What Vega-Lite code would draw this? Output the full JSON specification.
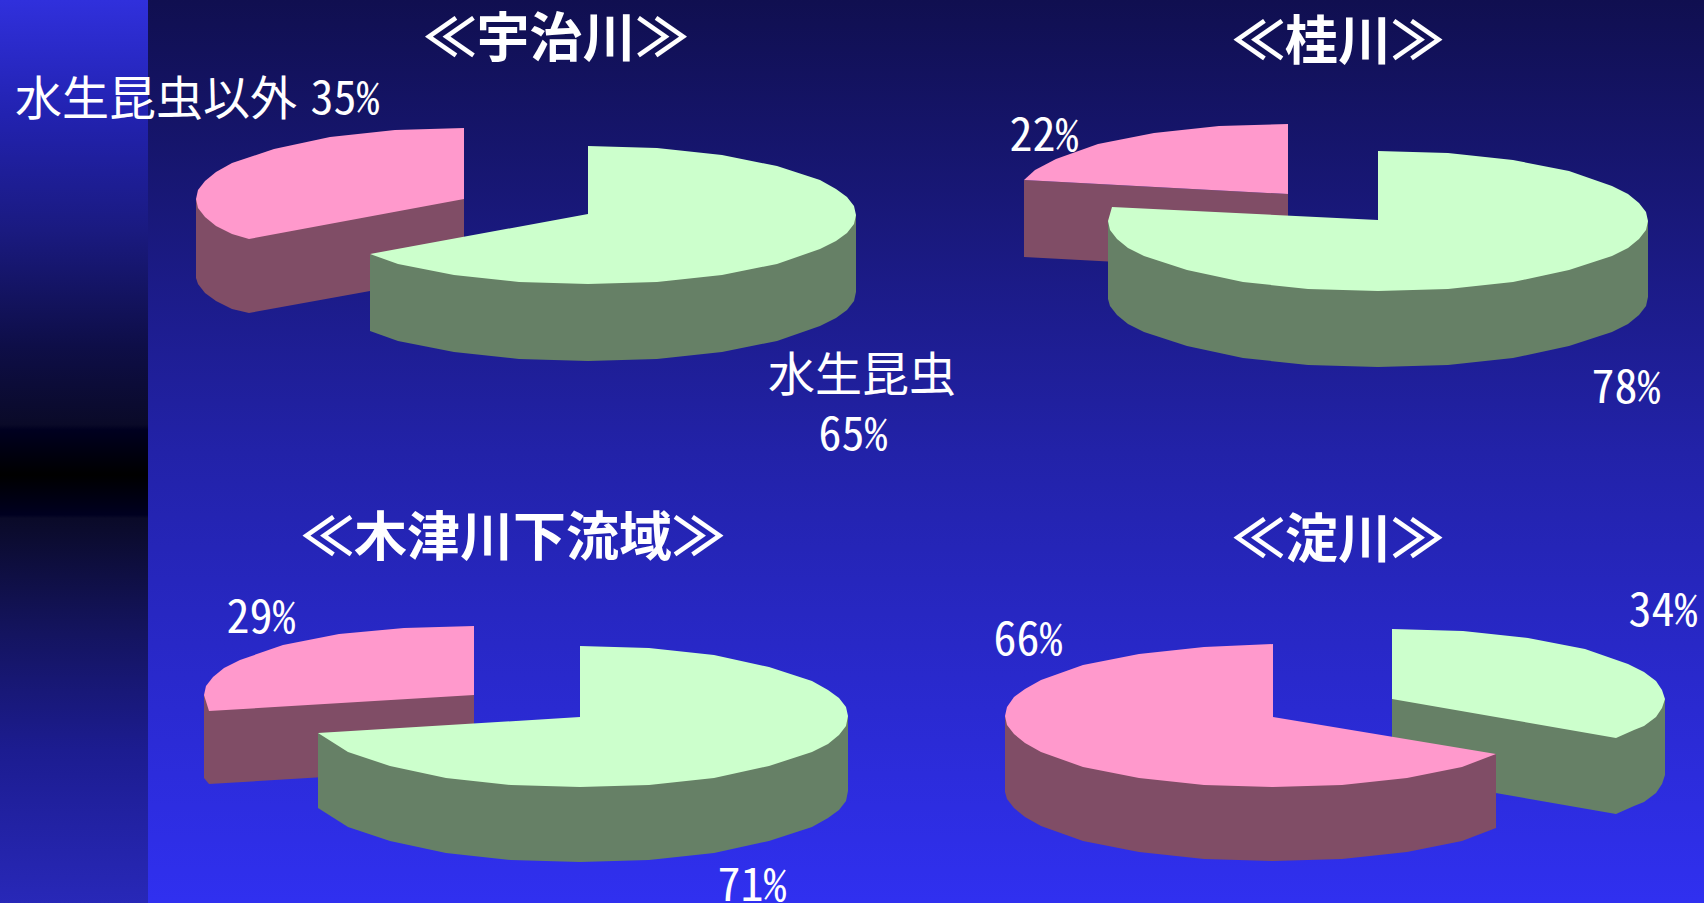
{"$schema":"https://vega.github.io/schema/vega-lite/v6.json","width":1704,"height":903,"padding":0,"autosize":{"type":"none"},"background":"#2020a0","view":{"stroke":null},
"encoding":{"x":{"field":"x","type":"quantitative","scale":{"domain":[0,1704]},"axis":null},"y":{"field":"y","type":"quantitative","scale":{"domain":[903,0]},"axis":null}},
"layer":[
{"data":{"values":[{"x":148,"x2":1704,"y":0,"y2":903}]},"mark":{"type":"rect","color":{"gradient":"linear","x1":0,"y1":0,"x2":0,"y2":1,"stops":[{"offset":0,"color":"#100f50"},{"offset":0.5,"color":"#2222a8"},{"offset":1,"color":"#3030f0"}]}},"encoding":{"x2":{"field":"x2"},"y2":{"field":"y2"}}},
{"data":{"values":[{"x":0,"x2":148,"y":0,"y2":903}]},"mark":{"type":"rect","color":{"gradient":"linear","x1":0,"y1":0,"x2":0,"y2":1,"stops":[{"offset":0,"color":"#3030dc"},{"offset":0.127,"color":"#2222b0"},{"offset":0.255,"color":"#1a1a80"},{"offset":0.382,"color":"#0e0e48"},{"offset":0.47,"color":"#0a0a28"},{"offset":0.476,"color":"#000020"},{"offset":0.526,"color":"#000000"},{"offset":0.57,"color":"#000020"},{"offset":0.574,"color":"#0a0a28"},{"offset":0.703,"color":"#141460"},{"offset":0.83,"color":"#1c1c90"},{"offset":1,"color":"#2828b8"}]}},"encoding":{"x2":{"field":"x2"},"y2":{"field":"y2"}}},
{"data":{"values":[
{"p":"宇治川 以外 側面","o":1,"x":464,"y":199},{"p":"宇治川 以外 側面","o":2,"x":464,"y":274},{"p":"宇治川 以外 側面","o":3,"x":249,"y":313},{"p":"宇治川 以外 側面","o":4,"x":232,"y":309},{"p":"宇治川 以外 側面","o":4.5,"x":216,"y":301},{"p":"宇治川 以外 側面","o":5,"x":205,"y":293},{"p":"宇治川 以外 側面","o":5.5,"x":198,"y":284},{"p":"宇治川 以外 側面","o":6,"x":196,"y":278},{"p":"宇治川 以外 側面","o":7,"x":196,"y":199},
{"p":"宇治川 以外 上面","o":1,"x":464,"y":199},{"p":"宇治川 以外 上面","o":2,"x":249,"y":239},{"p":"宇治川 以外 上面","o":3,"x":232,"y":234},{"p":"宇治川 以外 上面","o":3.5,"x":216,"y":226},{"p":"宇治川 以外 上面","o":4,"x":205,"y":217},{"p":"宇治川 以外 上面","o":4.5,"x":198,"y":208},{"p":"宇治川 以外 上面","o":5,"x":196,"y":199},{"p":"宇治川 以外 上面","o":5.5,"x":198,"y":190},{"p":"宇治川 以外 上面","o":6,"x":205,"y":181},{"p":"宇治川 以外 上面","o":6.5,"x":216,"y":172},{"p":"宇治川 以外 上面","o":7,"x":232,"y":163},{"p":"宇治川 以外 上面","o":8,"x":274,"y":149},{"p":"宇治川 以外 上面","o":9,"x":330,"y":137},{"p":"宇治川 以外 上面","o":10,"x":395,"y":130},{"p":"宇治川 以外 上面","o":11,"x":464,"y":128},
{"p":"宇治川 水生 側面","o":1,"x":856,"y":215},{"p":"宇治川 水生 側面","o":2,"x":370,"y":255},{"p":"宇治川 水生 側面","o":3,"x":370,"y":331},{"p":"宇治川 水生 側面","o":4,"x":398,"y":341},{"p":"宇治川 水生 側面","o":5,"x":454,"y":352},{"p":"宇治川 水生 側面","o":6,"x":519,"y":359},{"p":"宇治川 水生 側面","o":7,"x":588,"y":361},{"p":"宇治川 水生 側面","o":8,"x":657,"y":359},{"p":"宇治川 水生 側面","o":9,"x":722,"y":352},{"p":"宇治川 水生 側面","o":10,"x":777,"y":341},{"p":"宇治川 水生 側面","o":11,"x":820,"y":326},{"p":"宇治川 水生 側面","o":11.5,"x":836,"y":318},{"p":"宇治川 水生 側面","o":12,"x":847,"y":310},{"p":"宇治川 水生 側面","o":12.5,"x":854,"y":301},{"p":"宇治川 水生 側面","o":13,"x":856,"y":292},
{"p":"宇治川 水生 上面","o":1,"x":588,"y":214},{"p":"宇治川 水生 上面","o":2,"x":588,"y":146},{"p":"宇治川 水生 上面","o":3,"x":657,"y":148},{"p":"宇治川 水生 上面","o":4,"x":722,"y":155},{"p":"宇治川 水生 上面","o":5,"x":777,"y":166},{"p":"宇治川 水生 上面","o":6,"x":820,"y":180},{"p":"宇治川 水生 上面","o":6.5,"x":836,"y":189},{"p":"宇治川 水生 上面","o":7,"x":847,"y":197},{"p":"宇治川 水生 上面","o":7.5,"x":854,"y":206},{"p":"宇治川 水生 上面","o":8,"x":856,"y":215},{"p":"宇治川 水生 上面","o":8.5,"x":854,"y":224},{"p":"宇治川 水生 上面","o":9,"x":847,"y":233},{"p":"宇治川 水生 上面","o":9.5,"x":836,"y":241},{"p":"宇治川 水生 上面","o":10,"x":820,"y":249},{"p":"宇治川 水生 上面","o":11,"x":777,"y":264},{"p":"宇治川 水生 上面","o":12,"x":722,"y":275},{"p":"宇治川 水生 上面","o":13,"x":657,"y":282},{"p":"宇治川 水生 上面","o":14,"x":588,"y":284},{"p":"宇治川 水生 上面","o":15,"x":519,"y":282},{"p":"宇治川 水生 上面","o":16,"x":454,"y":275},{"p":"宇治川 水生 上面","o":17,"x":398,"y":264},{"p":"宇治川 水生 上面","o":18,"x":370,"y":254},
{"p":"桂川 以外 側面","o":1,"x":1288,"y":194},{"p":"桂川 以外 側面","o":2,"x":1288,"y":271},{"p":"桂川 以外 側面","o":3,"x":1024,"y":257},{"p":"桂川 以外 側面","o":4,"x":1024,"y":180},
{"p":"桂川 以外 上面","o":1,"x":1288,"y":194},{"p":"桂川 以外 上面","o":2,"x":1024,"y":180},{"p":"桂川 以外 上面","o":3,"x":1035,"y":170},{"p":"桂川 以外 上面","o":4,"x":1056,"y":159},{"p":"桂川 以外 上面","o":5,"x":1098,"y":144},{"p":"桂川 以外 上面","o":6,"x":1154,"y":133},{"p":"桂川 以外 上面","o":7,"x":1219,"y":126},{"p":"桂川 以外 上面","o":8,"x":1288,"y":124},
{"p":"桂川 水生 側面","o":1,"x":1648,"y":221},{"p":"桂川 水生 側面","o":2,"x":1108,"y":221},{"p":"桂川 水生 側面","o":3,"x":1108,"y":299},{"p":"桂川 水生 側面","o":3.5,"x":1110,"y":306},{"p":"桂川 水生 側面","o":4,"x":1117,"y":315},{"p":"桂川 水生 側面","o":4.5,"x":1128,"y":324},{"p":"桂川 水生 側面","o":5,"x":1144,"y":332},{"p":"桂川 水生 側面","o":6,"x":1187,"y":346},{"p":"桂川 水生 側面","o":7,"x":1243,"y":358},{"p":"桂川 水生 側面","o":8,"x":1308,"y":365},{"p":"桂川 水生 側面","o":9,"x":1378,"y":367},{"p":"桂川 水生 側面","o":10,"x":1448,"y":365},{"p":"桂川 水生 側面","o":11,"x":1513,"y":358},{"p":"桂川 水生 側面","o":12,"x":1569,"y":346},{"p":"桂川 水生 側面","o":13,"x":1612,"y":332},{"p":"桂川 水生 側面","o":13.5,"x":1628,"y":324},{"p":"桂川 水生 側面","o":14,"x":1639,"y":315},{"p":"桂川 水生 側面","o":14.5,"x":1646,"y":306},{"p":"桂川 水生 側面","o":15,"x":1648,"y":297},
{"p":"桂川 水生 上面","o":1,"x":1378,"y":220},{"p":"桂川 水生 上面","o":2,"x":1378,"y":151},{"p":"桂川 水生 上面","o":3,"x":1448,"y":153},{"p":"桂川 水生 上面","o":4,"x":1513,"y":160},{"p":"桂川 水生 上面","o":5,"x":1569,"y":171},{"p":"桂川 水生 上面","o":6,"x":1612,"y":186},{"p":"桂川 水生 上面","o":6.5,"x":1628,"y":194},{"p":"桂川 水生 上面","o":7,"x":1639,"y":203},{"p":"桂川 水生 上面","o":7.5,"x":1646,"y":212},{"p":"桂川 水生 上面","o":8,"x":1648,"y":221},{"p":"桂川 水生 上面","o":8.5,"x":1646,"y":230},{"p":"桂川 水生 上面","o":9,"x":1639,"y":239},{"p":"桂川 水生 上面","o":9.5,"x":1628,"y":248},{"p":"桂川 水生 上面","o":10,"x":1612,"y":256},{"p":"桂川 水生 上面","o":11,"x":1569,"y":270},{"p":"桂川 水生 上面","o":12,"x":1513,"y":282},{"p":"桂川 水生 上面","o":13,"x":1448,"y":289},{"p":"桂川 水生 上面","o":14,"x":1378,"y":291},{"p":"桂川 水生 上面","o":15,"x":1308,"y":289},{"p":"桂川 水生 上面","o":16,"x":1243,"y":282},{"p":"桂川 水生 上面","o":17,"x":1187,"y":270},{"p":"桂川 水生 上面","o":18,"x":1144,"y":256},{"p":"桂川 水生 上面","o":18.5,"x":1128,"y":248},{"p":"桂川 水生 上面","o":19,"x":1117,"y":239},{"p":"桂川 水生 上面","o":19.5,"x":1110,"y":230},{"p":"桂川 水生 上面","o":20,"x":1108,"y":221},{"p":"桂川 水生 上面","o":21,"x":1112,"y":207},
{"p":"木津川 以外 側面","o":1,"x":474,"y":695},{"p":"木津川 以外 側面","o":2,"x":474,"y":768},{"p":"木津川 以外 側面","o":3,"x":209,"y":784},{"p":"木津川 以外 側面","o":4,"x":204,"y":778},{"p":"木津川 以外 側面","o":5,"x":204,"y":695},
{"p":"木津川 以外 上面","o":1,"x":474,"y":695},{"p":"木津川 以外 上面","o":2,"x":209,"y":711},{"p":"木津川 以外 上面","o":3,"x":204,"y":695},{"p":"木津川 以外 上面","o":3.5,"x":206,"y":686},{"p":"木津川 以外 上面","o":4,"x":213,"y":677},{"p":"木津川 以外 上面","o":4.5,"x":224,"y":668},{"p":"木津川 以外 上面","o":5,"x":240,"y":660},{"p":"木津川 以外 上面","o":6,"x":283,"y":645},{"p":"木津川 以外 上面","o":7,"x":339,"y":634},{"p":"木津川 以外 上面","o":8,"x":404,"y":628},{"p":"木津川 以外 上面","o":9,"x":474,"y":626},
{"p":"木津川 水生 側面","o":1,"x":848,"y":716},{"p":"木津川 水生 側面","o":2,"x":318,"y":733},{"p":"木津川 水生 側面","o":3,"x":318,"y":808},{"p":"木津川 水生 側面","o":4,"x":348,"y":827},{"p":"木津川 水生 側面","o":5,"x":390,"y":841},{"p":"木津川 水生 側面","o":6,"x":446,"y":853},{"p":"木津川 水生 側面","o":7,"x":511,"y":860},{"p":"木津川 水生 側面","o":8,"x":580,"y":862},{"p":"木津川 水生 側面","o":9,"x":649,"y":860},{"p":"木津川 水生 側面","o":10,"x":714,"y":853},{"p":"木津川 水生 側面","o":11,"x":769,"y":841},{"p":"木津川 水生 側面","o":12,"x":812,"y":827},{"p":"木津川 水生 側面","o":12.5,"x":828,"y":818},{"p":"木津川 水生 側面","o":13,"x":839,"y":810},{"p":"木津川 水生 側面","o":13.5,"x":846,"y":801},{"p":"木津川 水生 側面","o":14,"x":848,"y":791},
{"p":"木津川 水生 上面","o":1,"x":580,"y":717},{"p":"木津川 水生 上面","o":2,"x":580,"y":646},{"p":"木津川 水生 上面","o":3,"x":649,"y":648},{"p":"木津川 水生 上面","o":4,"x":714,"y":655},{"p":"木津川 水生 上面","o":5,"x":769,"y":667},{"p":"木津川 水生 上面","o":6,"x":812,"y":681},{"p":"木津川 水生 上面","o":6.5,"x":828,"y":690},{"p":"木津川 水生 上面","o":7,"x":839,"y":698},{"p":"木津川 水生 上面","o":7.5,"x":846,"y":707},{"p":"木津川 水生 上面","o":8,"x":848,"y":716},{"p":"木津川 水生 上面","o":8.5,"x":846,"y":726},{"p":"木津川 水生 上面","o":9,"x":839,"y":735},{"p":"木津川 水生 上面","o":9.5,"x":828,"y":744},{"p":"木津川 水生 上面","o":10,"x":812,"y":752},{"p":"木津川 水生 上面","o":11,"x":769,"y":766},{"p":"木津川 水生 上面","o":12,"x":714,"y":778},{"p":"木津川 水生 上面","o":13,"x":649,"y":785},{"p":"木津川 水生 上面","o":14,"x":580,"y":787},{"p":"木津川 水生 上面","o":15,"x":511,"y":785},{"p":"木津川 水生 上面","o":16,"x":446,"y":778},{"p":"木津川 水生 上面","o":17,"x":390,"y":766},{"p":"木津川 水生 上面","o":18,"x":348,"y":752},{"p":"木津川 水生 上面","o":19,"x":318,"y":733},
{"p":"淀川 水生 側面","o":1,"x":1392,"y":699},{"p":"淀川 水生 側面","o":2,"x":1392,"y":775},{"p":"淀川 水生 側面","o":3,"x":1616,"y":814},{"p":"淀川 水生 側面","o":4,"x":1634,"y":806},{"p":"淀川 水生 側面","o":4.5,"x":1644,"y":802},{"p":"淀川 水生 側面","o":5,"x":1656,"y":793},{"p":"淀川 水生 側面","o":5.5,"x":1662,"y":784},{"p":"淀川 水生 側面","o":6,"x":1665,"y":775},{"p":"淀川 水生 側面","o":7,"x":1665,"y":699},
{"p":"淀川 水生 上面","o":1,"x":1392,"y":699},{"p":"淀川 水生 上面","o":2,"x":1392,"y":629},{"p":"淀川 水生 上面","o":3,"x":1463,"y":631},{"p":"淀川 水生 上面","o":4,"x":1528,"y":638},{"p":"淀川 水生 上面","o":5,"x":1585,"y":649},{"p":"淀川 水生 上面","o":6,"x":1628,"y":664},{"p":"淀川 水生 上面","o":6.5,"x":1644,"y":672},{"p":"淀川 水生 上面","o":7,"x":1656,"y":681},{"p":"淀川 水生 上面","o":7.5,"x":1662,"y":690},{"p":"淀川 水生 上面","o":8,"x":1665,"y":699},{"p":"淀川 水生 上面","o":8.5,"x":1662,"y":708},{"p":"淀川 水生 上面","o":9,"x":1656,"y":717},{"p":"淀川 水生 上面","o":9.5,"x":1644,"y":726},{"p":"淀川 水生 上面","o":10,"x":1634,"y":730},{"p":"淀川 水生 上面","o":11,"x":1616,"y":738},
{"p":"淀川 以外 側面","o":1,"x":1496,"y":754},{"p":"淀川 以外 側面","o":2,"x":1005,"y":716},{"p":"淀川 以外 側面","o":3,"x":1005,"y":792},{"p":"淀川 以外 側面","o":3.5,"x":1007,"y":799},{"p":"淀川 以外 側面","o":4,"x":1014,"y":808},{"p":"淀川 以外 側面","o":4.5,"x":1025,"y":817},{"p":"淀川 以外 側面","o":5,"x":1041,"y":826},{"p":"淀川 以外 側面","o":6,"x":1083,"y":841},{"p":"淀川 以外 側面","o":7,"x":1139,"y":852},{"p":"淀川 以外 側面","o":8,"x":1204,"y":859},{"p":"淀川 以外 側面","o":9,"x":1273,"y":861},{"p":"淀川 以外 側面","o":10,"x":1342,"y":859},{"p":"淀川 以外 側面","o":11,"x":1407,"y":852},{"p":"淀川 以外 側面","o":12,"x":1462,"y":841},{"p":"淀川 以外 側面","o":13,"x":1496,"y":828},
{"p":"淀川 以外 上面","o":1,"x":1273,"y":717},{"p":"淀川 以外 上面","o":2,"x":1496,"y":754},{"p":"淀川 以外 上面","o":3,"x":1462,"y":767},{"p":"淀川 以外 上面","o":4,"x":1407,"y":778},{"p":"淀川 以外 上面","o":5,"x":1342,"y":785},{"p":"淀川 以外 上面","o":6,"x":1273,"y":787},{"p":"淀川 以外 上面","o":7,"x":1204,"y":785},{"p":"淀川 以外 上面","o":8,"x":1139,"y":778},{"p":"淀川 以外 上面","o":9,"x":1083,"y":767},{"p":"淀川 以外 上面","o":10,"x":1041,"y":752},{"p":"淀川 以外 上面","o":10.5,"x":1025,"y":743},{"p":"淀川 以外 上面","o":11,"x":1014,"y":734},{"p":"淀川 以外 上面","o":11.5,"x":1007,"y":725},{"p":"淀川 以外 上面","o":12,"x":1005,"y":716},{"p":"淀川 以外 上面","o":12.5,"x":1007,"y":707},{"p":"淀川 以外 上面","o":13,"x":1014,"y":697},{"p":"淀川 以外 上面","o":13.5,"x":1025,"y":689},{"p":"淀川 以外 上面","o":14,"x":1041,"y":680},{"p":"淀川 以外 上面","o":15,"x":1083,"y":665},{"p":"淀川 以外 上面","o":16,"x":1139,"y":654},{"p":"淀川 以外 上面","o":17,"x":1204,"y":647},{"p":"淀川 以外 上面","o":18,"x":1273,"y":644}
]},
"mark":{"type":"line","filled":true,"strokeWidth":0,"interpolate":"linear"},
"encoding":{"detail":{"field":"p"},"order":{"field":"o","type":"quantitative"},
"fill":{"field":"p","type":"nominal","legend":null,"scale":{"domain":["宇治川 以外 側面","宇治川 以外 上面","宇治川 水生 側面","宇治川 水生 上面","桂川 以外 側面","桂川 以外 上面","桂川 水生 側面","桂川 水生 上面","木津川 以外 側面","木津川 以外 上面","木津川 水生 側面","木津川 水生 上面","淀川 以外 側面","淀川 以外 上面","淀川 水生 側面","淀川 水生 上面"],"range":["#804d66","#ff99cc","#668066","#ccffcc","#804d66","#ff99cc","#668066","#ccffcc","#804d66","#ff99cc","#668066","#ccffcc","#804d66","#ff99cc","#668066","#ccffcc"]}}}},
{"data":{"values":[{"t":"≪宇治川≫","x":556,"y":41},{"t":"≪桂川≫","x":1338,"y":44},{"t":"≪木津川下流域≫","x":513,"y":540},{"t":"≪淀川≫","x":1338,"y":542}]},"mark":{"type":"text","font":"Noto Sans CJK JP","fontWeight":"bold","fontSize":53,"color":"white","align":"center","baseline":"middle"},"encoding":{"text":{"field":"t"}}},
{"data":{"values":[{"t":"水生昆虫以外","x":156,"y":101},{"t":"水生昆虫","x":862,"y":377}]},"mark":{"type":"text","font":"Noto Sans CJK JP","fontSize":47,"color":"white","align":"center","baseline":"middle"},"encoding":{"text":{"field":"t"}}},
{"data":{"values":[{"t":"35%","x":345,"y":100},{"t":"65%","x":853,"y":436},{"t":"22%","x":1044,"y":137},{"t":"78%","x":1626,"y":389},{"t":"29%","x":261,"y":619},{"t":"71%","x":752,"y":887},{"t":"66%","x":1028,"y":641},{"t":"34%","x":1663,"y":612}]},"mark":{"type":"text","font":"Noto Sans Mono CJK JP, Liberation Sans","fontSize":46,"color":"white","align":"center","baseline":"middle"},"encoding":{"text":{"field":"t"}}}
]}
